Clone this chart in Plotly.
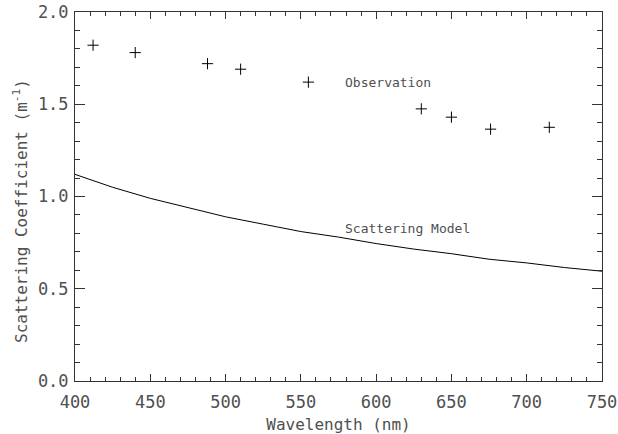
import plotly.graph_objects as go

obs_wavelength = [412, 440, 488, 510, 555, 630, 650, 676, 715]
obs_scattering = [1.82, 1.78, 1.72, 1.69, 1.62, 1.475, 1.43, 1.365, 1.375]

model_wavelength = [400, 425, 450, 475, 500, 525, 550, 575, 600, 625, 650, 675, 700, 725, 750]
model_scattering = [1.12, 1.05, 0.99, 0.94, 0.89, 0.85, 0.81, 0.78, 0.745, 0.715, 0.69, 0.66, 0.64, 0.615, 0.595]

x_ticks = [400, 450, 500, 550, 600, 650, 700, 750]
y_ticks = [0.0, 0.5, 1.0, 1.5, 2.0]
y_tick_labels = ["0.0", "0.5", "1.0", "1.5", "2.0"]

FONT = "DejaVu Sans Mono"
TXT = "#505050"
LINE = "#333333"

W, H = 618, 434
ML, MR, MT, MB = 75, 16, 12, 53
PW = W - ML - MR
PH = H - MT - MB

fig = go.Figure()
fig.add_trace(go.Scatter(
    x=model_wavelength, y=model_scattering, mode="lines",
    line=dict(color="black", width=1), showlegend=False,
))
fig.add_trace(go.Scatter(
    x=obs_wavelength, y=obs_scattering, mode="markers",
    marker=dict(symbol="cross-thin", size=8, line=dict(color="black", width=1)),
    showlegend=False,
))

fig.add_annotation(x=578, y=1.62, text="Observation", showarrow=False,
                   xanchor="left", yanchor="middle",
                   font=dict(family=FONT, size=13, color=TXT))
fig.add_annotation(x=578, y=0.825, text="Scattering Model", showarrow=False,
                   xanchor="left", yanchor="middle",
                   font=dict(family=FONT, size=13, color=TXT))

# y-axis title (placed as annotation so its centre matches the reference)
fig.add_annotation(
    xref="paper", yref="paper",
    x=(20 - ML) / PW, y=1 - (211 - MT) / PH,
    text="Scattering Coefficient (m<sup>-1</sup>)", textangle=-90,
    showarrow=False, xanchor="center", yanchor="middle",
    font=dict(family=FONT, size=16, color=TXT),
)

axis_common = dict(
    showgrid=False, zeroline=False, showline=True, linecolor=LINE,
    linewidth=1, mirror="ticks", ticks="inside", tickcolor=LINE,
    tickfont=dict(family=FONT, size=17, color=TXT), automargin=False,
)

fig.update_xaxes(
    range=[400, 750], tickvals=x_ticks, ticklen=7, tickwidth=1,
    ticklabelstandoff=6,
    minor=dict(dtick=10, ticklen=4, ticks="inside", tickcolor=LINE, tickwidth=1),
    title=dict(text="Wavelength (nm)", font=dict(family=FONT, size=16, color=TXT), standoff=7),
    **axis_common,
)
fig.update_yaxes(
    range=[0, 2.0], tickvals=y_ticks, ticktext=y_tick_labels, ticklen=10, tickwidth=1,
    ticklabelstandoff=2,
    minor=dict(dtick=0.1, ticklen=5, ticks="inside", tickcolor=LINE, tickwidth=1),
    **axis_common,
)

fig.update_layout(
    width=W, height=H,
    margin=dict(l=ML, r=MR, t=MT, b=MB),
    paper_bgcolor="white", plot_bgcolor="white",
)

fig.write_html("out.html")
